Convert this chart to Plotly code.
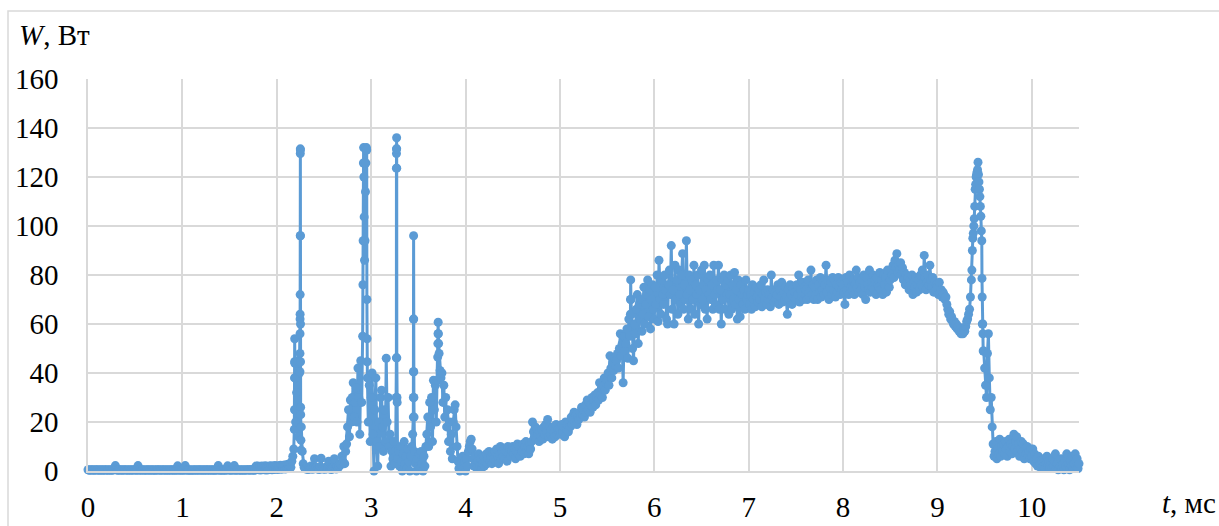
import numpy as np
import plotly.graph_objects as go

# Sampled power W (Вт), uniform 0.01 ms step from t = 0
DT = 0.01
w_base = [
    0.5, 0.4, 0.3, 0.5, 0.4, 0.5, 0.3, 0.4, 0.5, 0.4,   # 0.0
    0.4, 0.5, 0.3, 0.4, 0.5, 0.4, 0.3, 0.5, 0.4, 0.4,   # 0.1
    0.5, 0.3, 0.4, 0.5, 0.4, 0.3, 0.5, 0.4, 0.6, 2.2,   # 0.2
    0.5, 0.4, 0.3, 0.5, 0.4, 0.5, 0.3, 0.4, 0.5, 0.4,   # 0.3
    0.4, 0.5, 0.3, 0.4, 0.5, 0.4, 0.3, 0.5, 0.4, 0.4,   # 0.4
    0.5, 0.4, 0.3, 2.2, 0.4, 0.5, 0.3, 0.4, 0.5, 0.4,   # 0.5
    0.4, 0.3, 0.5, 0.4, 0.5, 0.3, 0.4, 0.5, 0.4, 0.3,   # 0.6
    0.5, 0.4, 0.3, 0.5, 0.4, 0.5, 0.4, 0.3, 0.5, 0.4,   # 0.7
    0.4, 0.5, 0.3, 0.4, 0.5, 0.4, 0.3, 0.5, 0.4, 0.5,   # 0.8
    0.3, 0.4, 0.5, 0.4, 0.3, 2.1, 0.4, 0.5, 0.3, 0.4,   # 0.9
    0.5, 0.4, 0.3, 2.2, 0.5, 0.4, 0.3, 0.5, 0.4, 0.3,   # 1.0
    0.4, 0.5, 0.3, 0.4, 0.5, 0.4, 0.3, 0.5, 0.4, 0.5,   # 1.1
    0.3, 0.4, 0.5, 0.4, 0.3, 0.5, 0.4, 0.5, 0.3, 0.4,   # 1.2
    0.5, 0.4, 0.3, 0.5, 0.4, 0.3, 0.5, 0.4, 2.2, 0.4,   # 1.3
    0.3, 0.5, 0.4, 0.3, 0.5, 0.4, 0.3, 0.5, 2.1, 0.4,   # 1.4
    0.5, 0.3, 0.4, 0.5, 0.4, 2.2, 0.3, 0.4, 0.5, 0.4,   # 1.5
    0.4, 0.5, 0.3, 0.4, 0.5, 0.4, 0.3, 0.5, 0.4, 0.5,   # 1.6
    0.4, 0.5, 0.3, 0.6, 0.4, 0.5, 0.3, 0.4, 2.0, 0.6,   # 1.7
    2.0, 0.5, 1.8, 0.4, 2.0, 0.6, 1.9, 0.5, 2.1, 0.4,   # 1.8
    1.8, 0.5, 2.0, 0.7, 2.1, 0.5, 1.9, 0.6, 2.2, 0.8,   # 1.9
    2.0, 0.6, 2.1, 0.9, 2.3, 0.7, 2.0, 1.0, 2.4, 0.8,   # 2.0
    2.5, 1.2, 2.8, 1.0, 3.0, 1.5, 4.0, 6.0, 9.0, 54,    # 2.1
    20, 32, 45, 14, 40, 131.5, 18, 8, 3, 1.5,           # 2.2
    1.0, 0.8, 1.5, 0.6, 1.2, 0.8, 2.0, 1.0, 0.7, 1.3,   # 2.3
    5.0, 1.0, 1.5, 0.8, 1.2, 0.6, 1.8, 5.2, 1.0, 0.8,   # 2.4
    1.2, 0.7, 1.5, 0.9, 1.0, 4.0, 0.8, 1.3, 0.6, 1.1,   # 2.5
    1.5, 5.0, 1.0, 0.8, 1.8, 1.2, 2.0, 3.0, 2.5, 6.0,   # 2.6
    4.0, 10, 3.0, 8.0, 11, 18, 25, 14, 29, 20,          # 2.7
    30, 36, 22, 28, 34, 20, 42, 30, 15, 45,             # 2.8
    28, 55, 132, 86, 114, 132, 38, 20, 35, 12,          # 2.9
    30, 40, 15, 0, 25, 38, 12, 2, 20, 10,               # 3.0
    30, 33, 18, 8, 25, 12, 46, 20, 30, 10,              # 3.1
    15, 2, 8, 5, 12, 3, 8, 136, 5, 8,                   # 3.2
    2, 10, 4, 0, 7, 12, 3, 6, 1, 9,                     # 3.3
    4, 0, 6, 10, 15, 96, 8, 3, 0, 5,                    # 3.4
    2, 7, 1, 8, 3, 0, 6, 2, 10, 15,                     # 3.5
    22, 10, 28, 18, 30, 12, 37, 25, 35, 20,             # 3.6
    37, 60.7, 48, 41, 38, 40, 28, 35, 22, 30,           # 3.7
    18, 25, 12, 20, 8, 15, 5, 20, 25, 27,               # 3.8
    18, 10, 4, 1, 0, 3, 2, 6, 1, 4,                     # 3.9
    0, 5, 2, 8, 10, 12, 13, 9, 5, 2,                    # 4.0
    6, 3, 1, 4, 7, 2, 5, 1, 3, 6,                       # 4.1
    2, 4, 7, 3, 5, 8, 4, 6, 3, 7,                       # 4.2
    5, 8, 4, 9, 6, 3, 7, 10, 5, 8,                      # 4.3
    6, 9, 5, 8, 4, 10, 7, 9, 6, 8,                      # 4.4
    10, 7, 9, 5, 8, 11, 7, 10, 6, 9,                    # 4.5
    8, 11, 7, 10, 12, 8, 10, 7, 11, 9,                  # 4.6
    12, 20, 16, 14, 18, 13, 17, 15, 12, 16,             # 4.7
    14, 17, 13, 18, 15, 19, 16, 21, 14, 18,             # 4.8
    15, 17, 13, 18, 16, 14, 19, 15, 17, 16,             # 4.9
    17, 15, 19, 16, 18, 14, 20, 17, 19, 16,             # 5.0
    20, 18, 22, 19, 21, 24, 20, 23, 19, 22,             # 5.1
    21, 24, 22, 26, 23, 25, 22, 27, 24, 29,             # 5.2
    25, 28, 24, 27, 30, 26, 29, 31, 27, 30,             # 5.3
    32, 29, 36, 31, 34, 30, 35, 38, 33, 36,             # 5.4
    37, 40, 35, 47, 42, 38, 44, 41, 46, 43,             # 5.5
    45, 48, 42, 50, 56, 47, 52, 36, 55, 49,             # 5.6
    52, 58, 46, 62, 55, 78, 64, 50, 45, 60,             # 5.7
    56, 66, 72, 52, 68, 62, 70, 57, 64, 75,             # 5.8
    60, 68, 72, 78, 63, 74, 58, 70, 76, 66,             # 5.9
    62, 75, 68, 80, 61, 86, 70, 64, 78, 72,             # 6.0
    68, 80, 74, 62, 60, 76, 82, 72, 92, 66,             # 6.1
    74, 60, 84, 70, 78, 64, 82, 72, 68, 80,             # 6.2
    88.7, 66, 76, 70, 94, 72, 62, 80, 74, 66,           # 6.3
    78, 70, 84, 64, 76, 72, 80, 60, 74, 68,             # 6.4
    82, 70, 76, 84, 66, 74, 62, 78, 72, 80,             # 6.5
    70, 76, 66, 84, 72, 68, 78, 74, 84, 66,             # 6.6
    74, 60, 78, 70, 80, 66, 76, 72, 78, 64,             # 6.7
    72, 80, 66, 76, 70, 81, 68, 74, 62, 78,             # 6.8
    70, 63, 76, 72, 68, 74, 66, 78, 70, 72,             # 6.9
    74, 68, 72, 66, 76, 70, 73, 67, 75, 71,             # 7.0
    69, 74, 70, 76, 67, 72, 78, 70, 73, 68,             # 7.1
    74, 70, 72, 67, 80, 71, 74, 69, 73, 70,             # 7.2
    72, 76, 68, 74, 71, 77, 69, 73, 70, 75,             # 7.3
    71, 64, 74, 70, 76, 72, 68, 75, 71, 73,             # 7.4
    70, 76, 72, 80, 69, 74, 71, 77, 70, 75,             # 7.5
    72, 74, 70, 78, 73, 71, 82, 72, 76, 70,             # 7.6
    75, 72, 78, 70, 76, 73, 79, 71, 74, 77,             # 7.7
    72, 76, 84, 73, 78, 70, 75, 77, 72, 79,             # 7.8
    74, 78, 71, 76, 73, 79, 75, 72, 77, 74,             # 7.9
    76, 73, 68, 79, 74, 77, 72, 80, 75, 78,             # 8.0
    74, 78, 72, 76, 82, 75, 79, 73, 77, 74,             # 8.1
    78, 72, 80, 75, 70, 79, 76, 74, 82, 73,             # 8.2
    77, 75, 80, 74, 78, 72, 79, 76, 75, 81,             # 8.3
    74, 78, 72, 80, 76, 79, 73, 82, 77, 75,             # 8.4
    78, 82, 80, 84, 79, 86, 83, 88.7, 81, 84,           # 8.5
    82, 85, 80, 83, 78, 81, 76, 80, 77, 79,             # 8.6
    74, 78, 76, 80, 72, 77, 75, 79, 73, 76,             # 8.7
    78, 74, 80, 76, 82, 75, 88, 79, 74, 77,             # 8.8
    80, 76, 84, 78, 75, 79, 73, 77, 74, 76,             # 8.9
    75, 72, 77, 73, 74, 71, 73, 72, 70, 71,             # 9.0
    68, 66, 64, 65, 62, 63, 61, 60, 61, 59,             # 9.1
    60, 58, 59, 57, 58, 56, 57, 56, 58, 57,             # 9.2
    59, 61, 62, 64, 66, 71, 78, 90, 97, 103,            # 9.3
    115, 120, 122, 126, 118, 112, 104, 94, 60, 49,      # 9.4
    42, 35, 30, 48, 56, 38, 25, 30, 18, 11,             # 9.5
    6, 8, 12, 5, 9, 7, 13, 6, 10, 8,                    # 9.6
    11, 7, 12, 9, 6, 10, 13, 8, 11, 7,                  # 9.7
    10, 15, 9, 12, 14, 8, 11, 6, 9, 12,                 # 9.8
    8, 11, 5, 9, 7, 10, 6, 8, 5, 9,                     # 9.9
    6, 9, 4, 7, 3, 5, 2, 6, 4, 3,                       # 10.0
    1, 4, 2, 5, 1, 3, 6, 2, 4, 1,                       # 10.1
    3, 1, 5, 2, 4, 7, 1, 3, 0.5, 4,                     # 10.2
    2, 5, 1, 3, 0.5, 4, 2, 7, 1, 3,                     # 10.3
    0.5, 4, 2, 6, 1, 3, 7, 2, 5, 1,                     # 10.4
    3,                                                  # 10.5
]

# Extra samples read along the narrow spikes (t in ms, W in Вт)
spike_t = [2.186, 2.188, 2.1885, 2.189, 2.192, 2.194, 2.196,
           2.2455, 2.246, 2.2465, 2.247, 2.2475, 2.248, 2.249, 2.2495, 2.2505, 2.251,
           2.2515, 2.252, 2.253, 2.254, 2.256, 2.258,
           2.913, 2.915, 2.918, 2.923, 2.926, 2.935, 2.944, 2.947, 2.953, 2.955, 2.957, 2.958,
           3.266, 3.2675, 3.268, 3.2685, 3.269, 3.2705, 3.271, 3.272, 3.274, 3.276,
           3.447, 3.4475, 3.448, 3.449, 3.451, 3.452, 3.453, 3.455,
           3.705, 3.707, 3.709, 3.712, 3.715,
           5.747, 5.748, 5.753,
           9.365, 9.375, 9.385, 9.395, 9.405, 9.415, 9.425, 9.435, 9.445, 9.455, 9.465,
           9.472, 9.474, 9.476, 9.482, 9.485]
spike_w = [17, 25, 38, 44.6, 44, 38, 25,
           40.5, 48, 56, 62, 64, 72, 96, 129.6, 131, 96,
           60, 44.6, 26, 23, 12.6, 8.5,
           76, 94, 125.7, 120, 103.7, 94, 125.7, 131, 131, 70, 54, 44.6,
           30, 46.2, 123.6, 129.6, 131.5, 131.5, 123.6, 46.2, 30, 28,
           22, 30, 40.5, 62, 62, 40.5, 30, 22,
           46.5, 52, 56, 56, 52,
           64, 70, 70,
           82, 95, 100, 108, 117, 121, 123, 121, 115, 108, 98,
           78.6, 71, 60, 56, 49]

x_ticks = [0, 1, 2, 3, 4, 5, 6, 7, 8, 9, 10]
x_tick_labels = ["0", "1", "2", "3", "4", "5", "6", "7", "8", "9", "10"]
y_ticks = [0, 20, 40, 60, 80, 100, 120, 140, 160]
y_tick_labels = ["0", "20", "40", "60", "80", "100", "120", "140", "160"]

assert len(w_base) == 1051, len(w_base)
assert len(spike_t) == len(spike_w), (len(spike_t), len(spike_w))

t_base = np.round(np.arange(len(w_base)) * DT, 4)
t_all = np.concatenate([t_base, np.array(spike_t)])
w_all = np.concatenate([np.array(w_base, dtype=float), np.array(spike_w, dtype=float)])
order = np.argsort(t_all, kind="stable")
t_all = t_all[order]
w_all = w_all[order]

BLUE = "#5B9BD5"
GRID = "#D9D9D9"
FONT = "Liberation Serif"

fig = go.Figure()
fig.add_trace(go.Scatter(
    x=t_all, y=w_all, mode="lines+markers",
    line=dict(color=BLUE, width=3),
    marker=dict(color=BLUE, size=9),
    cliponaxis=False, showlegend=False, hoverinfo="skip",
))

fig.update_layout(
    width=1219, height=526,
    margin=dict(l=88, r=140, t=79, b=55, autoexpand=False),
    paper_bgcolor="white", plot_bgcolor="white",
    font=dict(family=FONT, size=29, color="black"),
    xaxis=dict(range=[0, 10.5], tickvals=x_ticks, ticktext=x_tick_labels,
               showgrid=True, gridcolor=GRID, gridwidth=1.5, zeroline=False,
               showline=True, linecolor=GRID, linewidth=1.5,
               ticks="", ticklabelstandoff=9, automargin=False,
               tickfont=dict(family=FONT, size=29, color="black")),
    yaxis=dict(range=[0, 160], tickvals=y_ticks, ticktext=y_tick_labels,
               showgrid=True, gridcolor=GRID, gridwidth=1.5, zeroline=False,
               showline=True, linecolor=GRID, linewidth=1.5,
               ticks="", ticklabelstandoff=22, automargin=False,
               tickfont=dict(family=FONT, size=29, color="black")),
    annotations=[
        dict(text="<i>W</i>, Вт", xref="paper", yref="paper",
             x=(17 - 88) / 991, y=(471 - 35) / 392, xanchor="left", yanchor="middle",
             showarrow=False, font=dict(family=FONT, size=29, color="black")),
        dict(text="<i>t</i>, мс", xref="paper", yref="paper",
             x=(1160 - 88) / 991, y=(471 - 503) / 392, xanchor="left", yanchor="middle",
             showarrow=False, font=dict(family=FONT, size=29, color="black")),
    ],
    shapes=[
        dict(type="rect", xref="paper", yref="paper",
             x0=(8 - 88) / 991, x1=1.4, y0=-0.4, y1=(471 - 11) / 392,
             line=dict(color=GRID, width=1.5), fillcolor="rgba(0,0,0,0)", layer="below"),
    ],
)

fig.write_html("out.html")
